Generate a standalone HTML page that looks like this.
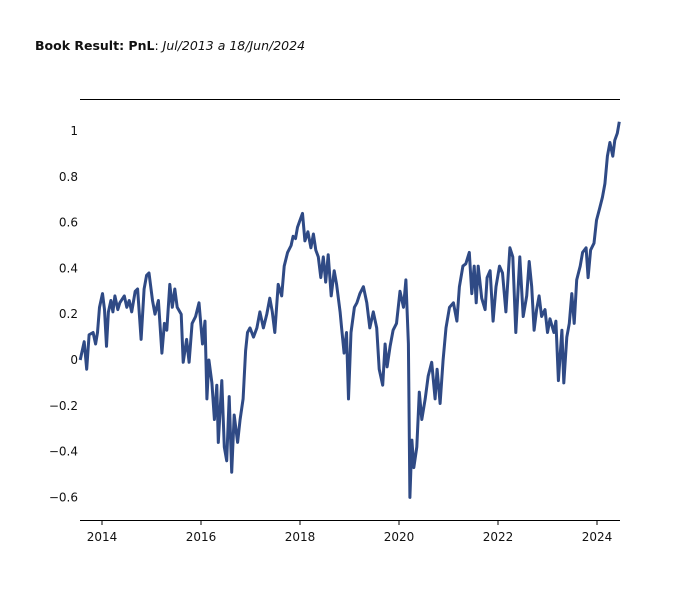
<!DOCTYPE html>
<html><head><meta charset="utf-8"><style>
body{margin:0;background:#fff;}
svg{display:block;font-family:"DejaVu Sans","Liberation Sans",sans-serif;}
</style></head><body>
<svg id="chart" width="700" height="600" viewBox="0 0 700 600" xmlns="http://www.w3.org/2000/svg">
<text x="35" y="50" font-size="12.5" fill="#111"><tspan font-weight="bold">Book Result: PnL</tspan>: <tspan font-style="italic">Jul/2013 a 18/Jun/2024</tspan></text>
<line x1="80" y1="99.5" x2="620" y2="99.5" stroke="#000" stroke-width="1"/>
<line x1="80" y1="520.5" x2="620" y2="520.5" stroke="#000" stroke-width="1"/>
<g id="yticks"></g>
<g id="xticks"></g>
<path id="pnl" fill="none" stroke="#2f4a85" stroke-width="3" stroke-linejoin="round"/>
</svg>
<script>
const years=[2013.56,2013.64,2013.69,2013.74,2013.82,2013.87,2013.91,2013.95,2014.01,2014.05,2014.09,2014.13,2014.18,2014.22,2014.26,2014.32,2014.36,2014.45,2014.50,2014.55,2014.60,2014.67,2014.72,2014.79,2014.85,2014.90,2014.95,2015.02,2015.07,2015.14,2015.21,2015.26,2015.31,2015.37,2015.42,2015.47,2015.52,2015.60,2015.64,2015.71,2015.76,2015.82,2015.89,2015.96,2016.03,2016.08,2016.12,2016.16,2016.22,2016.27,2016.32,2016.35,2016.42,2016.47,2016.52,2016.57,2016.62,2016.67,2016.74,2016.79,2016.85,2016.90,2016.94,2016.99,2017.06,2017.13,2017.19,2017.26,2017.33,2017.39,2017.44,2017.49,2017.56,2017.63,2017.68,2017.75,2017.82,2017.86,2017.91,2017.95,2018.00,2018.05,2018.10,2018.16,2018.22,2018.27,2018.32,2018.37,2018.42,2018.47,2018.52,2018.57,2018.63,2018.69,2018.74,2018.81,2018.84,2018.89,2018.94,2018.98,2019.03,2019.10,2019.15,2019.21,2019.28,2019.35,2019.41,2019.48,2019.55,2019.60,2019.67,2019.72,2019.76,2019.82,2019.88,2019.95,2020.02,2020.09,2020.14,2020.19,2020.22,2020.26,2020.30,2020.36,2020.41,2020.46,2020.53,2020.59,2020.66,2020.73,2020.77,2020.83,2020.89,2020.95,2021.02,2021.10,2021.17,2021.22,2021.29,2021.35,2021.42,2021.47,2021.52,2021.56,2021.60,2021.67,2021.74,2021.78,2021.84,2021.90,2021.96,2022.03,2022.09,2022.16,2022.24,2022.30,2022.36,2022.44,2022.51,2022.58,2022.63,2022.68,2022.73,2022.78,2022.83,2022.88,2022.95,2023.00,2023.05,2023.13,2023.17,2023.22,2023.29,2023.33,2023.39,2023.44,2023.49,2023.54,2023.59,2023.66,2023.71,2023.78,2023.82,2023.87,2023.94,2023.99,2024.05,2024.11,2024.16,2024.21,2024.26,2024.32,2024.36,2024.41,2024.45];
const pnl=[0.00,0.08,-0.04,0.11,0.12,0.07,0.12,0.23,0.29,0.22,0.06,0.21,0.26,0.21,0.28,0.22,0.25,0.28,0.23,0.26,0.21,0.30,0.31,0.09,0.31,0.37,0.38,0.26,0.20,0.26,0.03,0.16,0.13,0.33,0.23,0.31,0.23,0.20,-0.01,0.09,-0.01,0.16,0.19,0.25,0.07,0.17,-0.17,0.00,-0.10,-0.26,-0.11,-0.36,-0.09,-0.38,-0.44,-0.16,-0.49,-0.24,-0.36,-0.26,-0.17,0.04,0.12,0.14,0.10,0.14,0.21,0.14,0.20,0.27,0.21,0.12,0.33,0.28,0.41,0.47,0.50,0.54,0.53,0.58,0.61,0.64,0.52,0.56,0.49,0.55,0.48,0.45,0.36,0.45,0.34,0.46,0.28,0.39,0.33,0.21,0.14,0.03,0.12,-0.17,0.12,0.23,0.25,0.29,0.32,0.25,0.14,0.21,0.14,-0.04,-0.11,0.07,-0.03,0.06,0.13,0.16,0.30,0.23,0.35,0.07,-0.60,-0.35,-0.47,-0.38,-0.14,-0.26,-0.17,-0.07,-0.01,-0.17,-0.04,-0.19,0.00,0.14,0.23,0.25,0.17,0.32,0.41,0.42,0.47,0.29,0.41,0.25,0.41,0.27,0.22,0.36,0.39,0.17,0.32,0.41,0.38,0.21,0.49,0.45,0.12,0.45,0.19,0.28,0.43,0.32,0.13,0.22,0.28,0.19,0.22,0.12,0.18,0.12,0.17,-0.09,0.13,-0.10,0.10,0.16,0.29,0.16,0.35,0.41,0.47,0.49,0.36,0.48,0.51,0.61,0.66,0.71,0.77,0.89,0.95,0.89,0.96,0.99,1.04];
const yTicks=[-0.6,-0.4,-0.2,0,0.2,0.4,0.6,0.8,1];
const yTickLabels=["−0.6","−0.4","−0.2","0","0.2","0.4","0.6","0.8","1"];
const xTicks=[2014,2016,2018,2020,2022,2024];
const xTickLabels=["2014","2016","2018","2020","2022","2024"];
const NS="http://www.w3.org/2000/svg";
function xs(yr){return 102+(yr-2014)*49.5;}
function ys(v){return 360-v*229;}
const yg=document.getElementById('yticks');
yTicks.forEach((t,i)=>{
  const tx=document.createElementNS(NS,'text');
  
  
  tx.setAttribute('x',78);tx.setAttribute('y',ys(t)+4);
  tx.setAttribute('text-anchor','end');tx.setAttribute('font-size','12');tx.setAttribute('fill','#111');
  tx.textContent=yTickLabels[i];yg.appendChild(tx);
});
const xg=document.getElementById('xticks');
xTicks.forEach((t,i)=>{
  const ln=document.createElementNS(NS,'line');
  
  
  ln.setAttribute('x1',xs(t));ln.setAttribute('x2',xs(t));ln.setAttribute('y1',520);ln.setAttribute('y2',525);
  ln.setAttribute('stroke','#000');xg.appendChild(ln);
  const tx=document.createElementNS(NS,'text');
  
  
  tx.setAttribute('x',xs(t));tx.setAttribute('y',541);
  tx.setAttribute('text-anchor','middle');tx.setAttribute('font-size','12');tx.setAttribute('fill','#111');
  tx.textContent=xTickLabels[i];xg.appendChild(tx);
});
let d='';
years.forEach((yr,i)=>{d+=(i?'L':'M')+xs(yr).toFixed(1)+','+ys(pnl[i]).toFixed(1);});
document.getElementById('pnl').setAttribute('d',d);
</script>
</body></html>
